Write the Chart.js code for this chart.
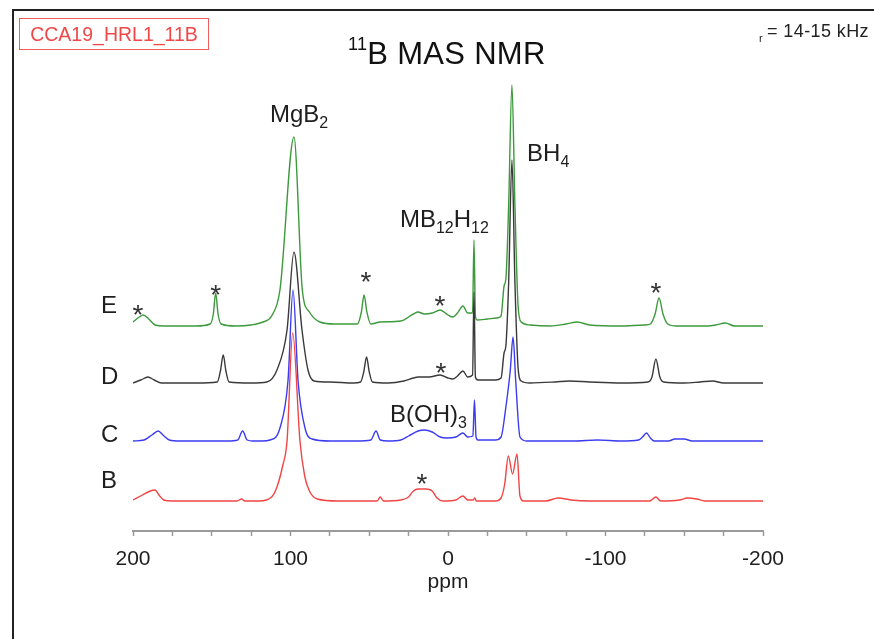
<!DOCTYPE html>
<html>
<head>
<meta charset="utf-8">
<title>11B MAS NMR</title>
<script src="https://cdn.jsdelivr.net/npm/chart.js@4.4.1/dist/chart.umd.min.js"></script>
<style>
  body { margin: 0; background: #fff; font-family: "Liberation Sans", Arial, sans-serif; }
  #wrap { position: relative; width: 874px; height: 639px; overflow: hidden; }
  canvas { position: absolute; left: 0; top: 0; }
  #frame { position: absolute; left: 12px; top: 9px; width: 900px; height: 700px; border-left: 2px solid #222; border-top: 2px solid #222; }
  #tag { position: absolute; left: 19px; top: 18px; width: 190px; height: 32px; box-sizing: border-box; border: 1.5px solid #f25c5c; color: #f04848; font-size: 19.5px; line-height: 19px; padding-top: 6px; text-align: center; }
  #title { position: absolute; left: 348px; top: 38px; font-size: 31px; line-height: 31px; color: #111; white-space: nowrap; letter-spacing: 0.3px; }
  #title span { font-size: 18px; line-height: 0; vertical-align: 14px; }
  #spin { position: absolute; left: 767px; top: 22px; font-size: 18px; line-height: 18px; color: #222; white-space: nowrap; letter-spacing: 0.4px; }
  #spinR { position: absolute; left: 759px; top: 33px; font-size: 11px; line-height: 11px; color: #222; }
</style>
</head>
<body>
<div id="wrap">
  <canvas id="nmr" width="874" height="639"></canvas>
  <div id="frame"></div>
  <div id="tag">CCA19_HRL1_11B</div>
  <div id="title"><span>11</span>B MAS NMR</div>
  <div id="spinR">r</div>
  <div id="spin">= 14-15 kHz</div>
</div>
<script>
// traces, bottom to top
var traceNames = ["B", "C", "D", "E"];
var traceColors = ["#f04545", "#3b3bf2", "#3a3a3a", "#3c9a3c"];
var traceOffsets = [30, 90, 148, 205]; // stacking offset of each spectrum

// chemical shift (ppm) and intensity
var bPpm = [200, 194, 189, 186, 183.5, 180.5, 175, 134, 131, 129, 120, 112, 108.6, 105, 102.2, 98.6, 94, 91, 88, 83, 70, 45, 43, 41, 30, 25, 22, 19, 14, 10, 7, 3, -5, -9.5, -12.5, -16, -17, -18, -30, -33.7, -36, -38.3, -41, -43.8, -45.7, -48, -62, -70, -78, -90, -128, -132, -135, -147, -152, -158, -163, -200];
var bInt = [1, 6, 10, 11, 6, 1, 0, 0, 2, 0, 0, 4, 14, 35, 60, 168, 60, 25, 10, 2, 0, 0, 4, 0, 1, 4, 10, 12, 12, 10, 3, 0, 1, 5, 1, 1, 3, 0, 0, 3, 17, 45, 27, 47, 5, 0, 0, 3, 1, 0, 0, 4, 0, 1, 3, 2, 0, 0];

var cPpm = [200, 193, 188, 184, 181, 177, 170, 140, 133.5, 130.4, 127.5, 124, 118, 113, 106.7, 101.6, 98.4, 95.2, 90.8, 86.3, 75, 58, 49, 45.7, 43, 38, 30, 25, 19, 15, 10, 5, 1, -5, -9.5, -12.5, -15.8, -16.8, -17.8, -19, -30, -33.7, -36.5, -39.5, -41.3, -43, -45.7, -50, -80, -95, -110, -121, -123.5, -126, -128.5, -131, -140, -144, -150, -155, -200];
var cInt = [0, 1, 6, 10, 6, 1, 0, 0, 1, 10, 1, 0, 0, 1, 13, 60, 151, 60, 13, 2, 0, 0, 1, 10, 1, 0, 1, 5, 10, 11, 9, 4, 3, 4, 8, 4, 5, 41, 4, 1, 1, 4, 31, 70, 104, 60, 4, 0, 0, 1, 0, 1, 4, 8, 3, 0, 0, 2, 2, 0, 0];

var dPpm = [200, 195, 190.5, 186.5, 182, 160, 146.5, 144.5, 142.7, 141, 139, 125, 115, 108.6, 102.2, 97.8, 92.7, 88.9, 85, 75, 60, 55.5, 53.5, 51.7, 50, 48, 38, 28, 22, 19, 12, 5, 0, -3, -6, -9.5, -12.5, -15.6, -16.5, -17.4, -19, -30, -33.7, -35.6, -36.8, -38.5, -40.6, -42.5, -44.5, -46.5, -52, -68, -77, -90, -110, -127, -129.5, -132, -134.5, -137, -150, -160, -168, -175, -200];
var dInt = [0, 3, 6, 3, 0, 0, 1, 12, 28, 12, 1, 0, 1, 13, 53, 131, 53, 13, 2, 1, 0, 1, 11, 26, 11, 1, 0, 2, 5, 6, 6, 8, 5, 4, 7, 12, 6, 8, 91, 6, 3, 3, 5, 30, 38, 100, 223, 100, 15, 2, 0, 1, 2, 1, 0, 1, 6, 24, 6, 1, 0, 1, 2, 0, 0];

var ePpm = [200, 196, 193.5, 190, 186, 180, 160, 151, 149, 147.5, 146, 144, 135, 125, 117.5, 112, 106.7, 97.8, 92.5, 88, 81.3, 72, 62, 57.5, 55, 53.3, 51.5, 49, 43, 30, 22, 19, 15, 10, 5, 0, -3, -6, -9.5, -12.5, -15.6, -16.5, -17.4, -18.5, -25, -31, -33.7, -35.6, -36.8, -38.5, -40.6, -42.5, -44.5, -46.5, -52, -65, -75, -82, -90, -110, -125, -128.5, -131.5, -134, -136.5, -139.5, -145, -165, -170, -176, -182, -200];
var eInt = [4, 9, 11, 7, 1, 0, 0, 2, 12, 33, 12, 2, 0, 1, 4, 10, 36, 189, 36, 14, 4, 2, 2, 2, 14, 31, 14, 2, 4, 5, 12, 14, 12, 13, 16, 11, 9, 13, 20, 13, 13, 86, 10, 6, 7, 8, 10, 40, 48, 120, 241, 120, 20, 4, 1, 0, 2, 4, 1, 0, 1, 2, 12, 28, 12, 2, 0, 0, 1, 3, 0, 0];

var tracePpm = [bPpm, cPpm, dPpm, ePpm];
var traceInt = [bInt, cInt, dInt, eInt];

// peak labels: pieces of text, [text, isSubscript], anchored at (ppm, value)
var labelText = [
  [["E", 0]], [["D", 0]], [["C", 0]], [["B", 0]],
  [["MgB", 0], ["2", 1]],
  [["MB", 0], ["12", 1], ["H", 0], ["12", 1]],
  [["BH", 0], ["4", 1]],
  [["B(OH)", 0], ["3", 1]]
];
var labelPpm = [220.3, 220.3, 220.3, 220.3, 113, 30.5, -50.2, 36.8];
var labelVal = [218, 147, 89.5, 43, 409, 304, 370, 109];

// spinning sideband markers
var starPpm = [196.8, 147.5, 52.1, 5.1, -132.1, 4.4, 16.5];
var starVal = [223, 243, 256, 232, 245, 165, 54];

var xTickStep = 25;
var xLabelStep = 100;

var fontFamily = '"Liberation Sans", Arial, sans-serif';
Chart.defaults.font.family = fontFamily;

var notesPlugin = {
  id: "notes",
  afterDatasetsDraw: function (chart) {
    var ctx = chart.ctx;
    var xs = chart.scales.x;
    var ys = chart.scales.y;
    ctx.save();
    ctx.fillStyle = "#1e1e1e";
    ctx.textAlign = "left";
    ctx.textBaseline = "alphabetic";
    labelText.forEach(function (parts, i) {
      var px = xs.getPixelForValue(labelPpm[i]);
      var py = ys.getPixelForValue(labelVal[i]);
      parts.forEach(function (p) {
        ctx.font = (p[1] ? 16 : 24) + "px " + fontFamily;
        ctx.fillText(p[0], px, py + (p[1] ? 6 : 0));
        px += ctx.measureText(p[0]).width;
      });
    });
    // asterisks, drawn so the glyph centre sits on the anchor
    ctx.fillStyle = "#333";
    ctx.textAlign = "center";
    ctx.font = "28px " + fontFamily;
    starPpm.forEach(function (p, i) {
      ctx.fillText("*", xs.getPixelForValue(p), ys.getPixelForValue(starVal[i]) + 16);
    });
    ctx.restore();
  },
};

var datasets = traceNames.map(function (name, i) {
  return {
    label: name,
    data: tracePpm[i].map(function (p, j) {
      return { x: p, y: traceInt[i][j] + traceOffsets[i] };
    }),
    borderColor: traceColors[i],
    borderWidth: 1.4,
    pointRadius: 0,
    cubicInterpolationMode: "monotone",
    fill: false,
  };
});

new Chart(document.getElementById("nmr"), {
  type: "line",
  data: { datasets: datasets },
  options: {
    responsive: false,
    animation: false,
    layout: { padding: { left: 133, right: 111, top: 80, bottom: 46 } },
    plugins: { legend: { display: false }, tooltip: { enabled: false } },
    scales: {
      x: {
        type: "linear",
        reverse: true,
        min: -200,
        max: 200,
        afterFit: function (scale) {
          scale.height = 62;
        },
        border: { display: true, color: "#9a9a9a", width: 2 },
        grid: { drawOnChartArea: false, drawTicks: true, tickLength: 5, tickColor: "#9a9a9a", tickWidth: 1.5 },
        ticks: {
          stepSize: xTickStep,
          autoSkip: false,
          maxRotation: 0,
          padding: 13,
          color: "#1e1e1e",
          font: { size: 21, lineHeight: 1 },
          callback: function (v) {
            return v % xLabelStep === 0 ? String(v) : "";
          },
        },
        title: {
          display: true,
          text: "ppm",
          color: "#1e1e1e",
          font: { size: 21, lineHeight: 1 },
          padding: { top: 0, bottom: 0 },
        },
      },
      y: { display: false, min: 0, max: 451 },
    },
  },
  plugins: [notesPlugin],
});
</script>
</body>
</html>
